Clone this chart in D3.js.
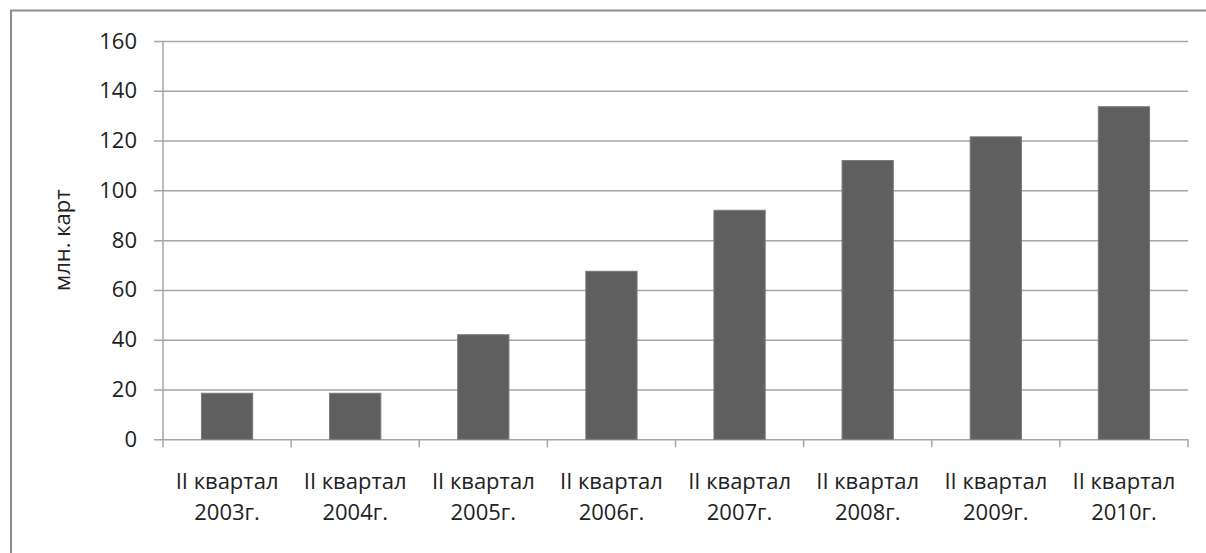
<!DOCTYPE html>
<html>
<head>
<meta charset="utf-8">
<script src="https://cdn.jsdelivr.net/npm/d3@7"></script>
<style>
  body { margin: 0; background: #fff; }
  text { font-family: "Open Sans", "Noto Sans", sans-serif; fill: #222; }
</style>
</head>
<body>
<script>
// chart data
var quarters = ['II квартал', 'II квартал', 'II квартал', 'II квартал', 'II квартал', 'II квартал', 'II квартал', 'II квартал'];
var years = ['2003г.', '2004г.', '2005г.', '2006г.', '2007г.', '2008г.', '2009г.', '2010г.'];
var cards = [18.5, 18.5, 42, 67.5, 92, 112, 121.5, 133.6];
var yTicks = [0, 20, 40, 60, 80, 100, 120, 140, 160];
var yTitle = 'млн. карт';

window.onload = function() {
  var width = 1206;
  var height = 553;

  var svg = d3.select('body').append('svg')
              .attr('width', width)
              .attr('height', height);

  // outer frame of the chart (runs past the right and bottom edges)
  svg.append('rect')
     .attr('x', 11)
     .attr('y', 10.5)
     .attr('width', 1210)
     .attr('height', 560)
     .attr('fill', 'none')
     .attr('stroke', '#8c8c8c')
     .attr('stroke-width', 2);

  var left = 163, right = 1188, top = 41, bottom = 439.3;

  var x = d3.scaleBand()
            .domain(years)
            .range([left, right])
            .paddingInner(0.6)
            .paddingOuter(0.3);

  var y = d3.scaleLinear()
            .domain([0, 160])
            .range([bottom, top]);

  // gridlines + y axis
  var yAxis = d3.axisLeft(y)
                .tickValues(yTicks)
                .tickSize(-(right - left) - 9)
                .tickPadding(17);

  var gy = svg.append('g')
              .attr('transform', 'translate(' + (left - 9) + ',0)')
              .call(yAxis);
  gy.select('.domain').remove();
  gy.selectAll('.tick line')
    .attr('stroke', '#a6a6a6')
    .attr('stroke-width', 1.5);
  gy.selectAll('.tick text')
    .style('font-size', '22px')
    .attr('fill', '#222');

  // vertical axis line
  svg.append('line')
     .attr('x1', left).attr('x2', left)
     .attr('y1', top).attr('y2', bottom)
     .attr('stroke', '#a6a6a6')
     .attr('stroke-width', 1.5);

  // category ticks on x axis
  var step = x.step();
  var start = x(years[0]) - step * x.paddingOuter();
  svg.selectAll('.xtick').data(d3.range(years.length + 1))
     .enter()
     .append('line')
     .attr('class', 'xtick')
     .attr('x1', function(i) { return start + i * step; })
     .attr('x2', function(i) { return start + i * step; })
     .attr('y1', bottom)
     .attr('y2', bottom + 8)
     .attr('stroke', '#a6a6a6')
     .attr('stroke-width', 1.5);

  // bars
  svg.selectAll('.bar').data(cards)
     .enter()
     .append('rect')
     .attr('class', 'bar')
     .attr('x', function(d, i) { return x(years[i]); })
     .attr('y', function(d) { return y(d); })
     .attr('width', x.bandwidth())
     .attr('height', function(d) { return bottom - y(d); })
     .attr('fill', '#5f5f5f')
     .attr('stroke', '#7a7a7a')
     .attr('stroke-width', 1);

  // x labels, two lines
  var labels = svg.selectAll('.xlabel').data(years)
                  .enter()
                  .append('text')
                  .attr('class', 'xlabel')
                  .attr('text-anchor', 'middle')
                  .style('font-size', '22px');
  labels.append('tspan')
        .attr('x', function(d) { return x(d) + x.bandwidth() / 2; })
        .attr('y', 489)
        .text(function(d, i) { return quarters[i]; });
  labels.append('tspan')
        .attr('x', function(d) { return x(d) + x.bandwidth() / 2; })
        .attr('y', 520)
        .text(function(d) { return d; });

  // y title
  svg.append('text')
     .attr('transform', 'translate(70,' + ((top + bottom) / 2) + ') rotate(-90)')
     .attr('text-anchor', 'middle')
     .style('font-size', '22px')
     .text(yTitle);
};
</script>
</body>
</html>
